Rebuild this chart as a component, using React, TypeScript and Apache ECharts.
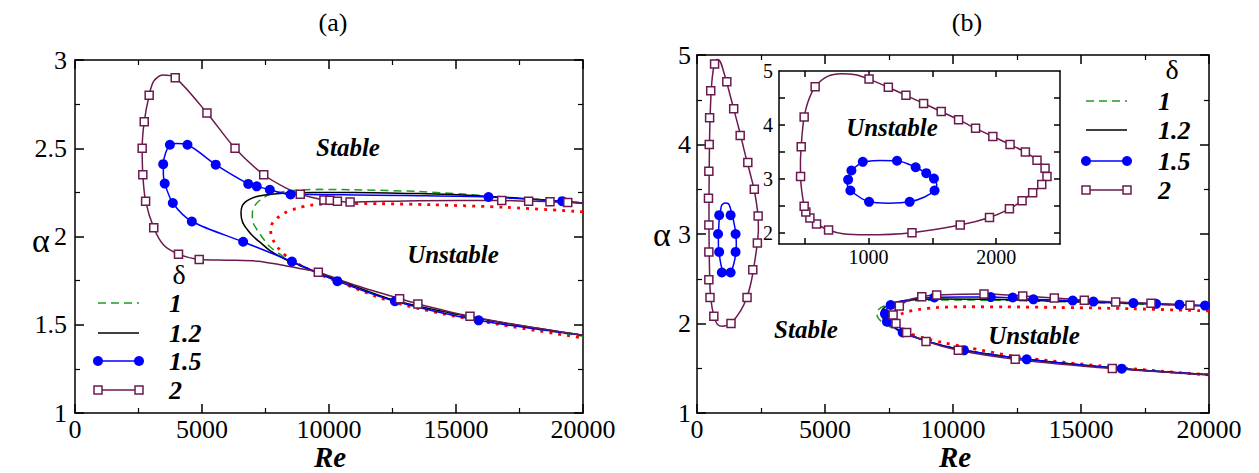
import React, { useEffect, useRef } from "react";
import * as echarts from "echarts";

type P = [number, number];

// ---------- Panel (a) ----------
const aDelta1: P[] = [[20000,2.19],[18000,2.212],[16000,2.233],[13500,2.255],[11000,2.265],[9646,2.267],[8202,2.254],[7546,2.23],[7152,2.188],[6990,2.145],[6982,2.112],[7030,2.072],[7218,2.027],[7450,1.98],[7677,1.942],[8202,1.886],[8700,1.845],[9500,1.795],[10400,1.748],[12600,1.635],[16000,1.53],[20000,1.435]];
const aDelta12: P[] = [[20000,2.19],[18000,2.212],[16000,2.23],[13500,2.243],[11000,2.25],[9400,2.25],[8333,2.246],[7546,2.237],[7200,2.228],[6890,2.212],[6700,2.195],[6575,2.17],[6535,2.133],[6600,2.08],[6780,2.04],[7021,2.0],[7350,1.96],[7677,1.92],[8333,1.867],[8800,1.84],[9500,1.8],[10400,1.752],[12600,1.638],[16000,1.533],[20000,1.44]];
const aDelta15: P[] = [[20000,2.19],[19180,2.2],[16280,2.224],[13000,2.232],[10500,2.236],[9200,2.238],[8490,2.238],[7670,2.265],[7154,2.284],[6820,2.298],[5540,2.407],[4430,2.52],[4000,2.527],[3740,2.52],[3560,2.47],[3478,2.41],[3480,2.35],[3535,2.3],[3851,2.19],[4610,2.085],[6620,1.97],[8540,1.858],[10330,1.747],[12597,1.633],[15890,1.525],[20000,1.44]];
const aDelta15Marks: P[] = [[3737,2.52],[4428,2.52],[3472,2.41],[3532,2.3],[3851,2.19],[4600,2.085],[5540,2.407],[6820,2.298],[7154,2.284],[7670,2.265],[8490,2.238],[6620,1.97],[8540,1.858],[10330,1.747],[12597,1.633],[15890,1.525],[16280,2.224],[19180,2.2]];
const aDelta2: P[] = [[20000,2.19],[19400,2.192],[18700,2.197],[17860,2.2],[16800,2.204],[13500,2.203],[10830,2.195],[10330,2.2],[10040,2.205],[9800,2.207],[9300,2.222],[8870,2.24],[8300,2.275],[7430,2.35],[6300,2.5],[5195,2.7],[3946,2.9],[3450,2.915],[3100,2.88],[2920,2.8],[2725,2.65],[2645,2.5],[2670,2.35],[2780,2.2],[3100,2.05],[3500,1.95],[4075,1.9],[4890,1.87],[6000,1.866],[7200,1.86],[8070,1.84],[8800,1.82],[9580,1.797],[11000,1.725],[12780,1.648],[13500,1.618],[15550,1.548],[17500,1.497],[20000,1.44]];
const aDelta2Marks: P[] = [[3946,2.9],[2920,2.8],[2725,2.65],[2645,2.5],[2670,2.35],[2780,2.2],[3100,2.05],[4075,1.9],[4890,1.87],[5195,2.7],[6300,2.5],[7430,2.35],[8870,2.24],[9800,2.207],[10040,2.205],[10330,2.2],[10830,2.195],[16800,2.204],[17860,2.2],[18700,2.197],[19400,2.192],[9580,1.797],[12780,1.648],[13500,1.618],[15550,1.548]];
const refDotted: P[] = [[20000,2.14],[17000,2.165],[14000,2.18],[12000,2.186],[10500,2.187],[9318,2.178],[8700,2.158],[8268,2.135],[7980,2.107],[7760,2.071],[7705,2.03],[7808,1.978],[8032,1.929],[8350,1.885],[8900,1.835],[9600,1.787],[10400,1.742],[12600,1.625],[16000,1.52],[20000,1.425]];

// ---------- Panel (b) ----------
const bDelta1: P[] = [[20000,2.195],[17000,2.22],[14000,2.245],[11500,2.26],[9500,2.262],[8500,2.255],[7800,2.235],[7350,2.2],[7100,2.16],[7020,2.11],[7080,2.06],[7300,2.0],[7700,1.94],[8200,1.88],[9000,1.8],[10400,1.705],[12800,1.605],[16500,1.5],[20000,1.43]];
const bDelta12: P[] = [[20000,2.197],[17000,2.225],[14000,2.25],[11500,2.27],[9500,2.275],[8500,2.265],[7800,2.24],[7450,2.2],[7250,2.16],[7210,2.11],[7260,2.06],[7450,2.0],[7800,1.94],[8250,1.88],[9000,1.8],[10400,1.703],[12800,1.603],[16500,1.498],[20000,1.428]];
const bDelta15: P[] = [[20000,2.195],[19844,2.2],[18845,2.21],[17932,2.22],[17046,2.228],[15483,2.245],[14676,2.256],[13141,2.27],[12333,2.285],[11474,2.295],[10300,2.295],[9271,2.29],[8400,2.27],[7800,2.235],[7566,2.207],[7400,2.16],[7340,2.11],[7380,2.05],[7480,2.0],[7700,1.95],[8035,1.9],[9000,1.8],[10430,1.7],[12879,1.6],[16590,1.495],[20000,1.43]];
const bDelta15Marks: P[] = [[7566,2.207],[7340,2.11],[7420,2.02],[8035,1.9],[9271,2.29],[11474,2.295],[12333,2.29],[13141,2.27],[14676,2.256],[15483,2.245],[17046,2.228],[17932,2.22],[18845,2.21],[19844,2.2],[10430,1.7],[12879,1.6],[16590,1.495]];
const bDelta2: P[] = [[20000,2.195],[19258,2.203],[17734,2.225],[16355,2.24],[15129,2.26],[13957,2.285],[12723,2.307],[11211,2.33],[9363,2.318],[8780,2.3],[8300,2.265],[7903,2.196],[7720,2.15],[7660,2.095],[7690,2.04],[7773,2.0],[8190,1.9],[8945,1.8],[10207,1.7],[12430,1.6],[16223,1.497],[20000,1.425]];
const bDelta2Marks: P[] = [[7903,2.196],[7660,2.095],[7773,2.0],[8190,1.9],[8945,1.8],[10207,1.7],[12430,1.6],[16223,1.497],[8780,2.3],[9363,2.318],[11211,2.33],[12723,2.307],[13957,2.285],[15129,2.26],[16355,2.24],[17734,2.225],[19258,2.203]];
// closed loops at low Re (shared by panel (b) and its inset)
const loopDelta2: P[] = [[1005,4.85],[1156,4.7],[1294,4.55],[1432,4.4],[1570,4.25],[1706,4.1],[1839,3.94],[1974,3.79],[2109,3.64],[2229,3.5],[2320,3.35],[2383,3.2],[2398,3.05],[2357,2.9],[2286,2.75],[2203,2.6],[2104,2.45],[1948,2.29],[1719,2.15],[1341,2.01],[984,1.97],[800,1.99],[688,2.06],[594,2.17],[542,2.28],[510,2.39],[497,2.5],[478,2.78],[469,3.05],[468,3.32],[474,3.6],[483,3.88],[497,4.15],[530,4.45],[583,4.71],[680,4.9],[789,4.95],[900,4.93],[1005,4.85]];
const loopDelta15: P[] = [[956,3.32],[1090,3.345],[1224,3.34],[1370,3.22],[1453,3.11],[1513,3.01],[1535,2.9],[1518,2.79],[1440,2.67],[1323,2.58],[1160,2.555],[1005,2.58],[859,2.79],[835,2.9],[841,2.99],[867,3.16],[956,3.32]];
const loopDelta2MainMarks: P[] = [[687,4.9],[1164,4.7],[1433,4.4],[1687,4.1],[1985,3.8],[2239,3.5],[2388,3.2],[2358,2.9],[2179,2.6],[1955,2.29],[1328,2.0],[657,2.08],[507,2.29],[463,2.49],[463,2.8],[463,3.1],[448,3.4],[463,3.7],[478,4.0],[493,4.3],[537,4.6]];
const loopDelta15MainMarks: P[] = [[866,3.21],[1313,3.21],[821,3.0],[1507,3.0],[866,2.8],[1507,2.8],[970,2.57],[1313,2.57]];
const insetDelta2Marks: P[] = [[1005,4.85],[1156,4.7],[1294,4.55],[1432,4.4],[1570,4.25],[1706,4.1],[1839,3.94],[1974,3.79],[2109,3.64],[2229,3.5],[2320,3.35],[2383,3.2],[2398,3.05],[2357,2.9],[2286,2.75],[2203,2.6],[2104,2.45],[1948,2.29],[1719,2.15],[1341,2.01],[688,2.06],[594,2.17],[542,2.28],[510,2.39],[497,2.5],[469,3.05],[474,3.6],[497,4.15],[583,4.71]];
const insetDelta15Marks: P[] = [[956,3.32],[1224,3.34],[1370,3.22],[1453,3.11],[1513,3.01],[1518,2.79],[1323,2.58],[1005,2.58],[859,2.79],[841,2.99],[867,3.16]];

// ticks / labels
const insetXTicks = [500, 1000, 1500, 2000];
const insetXLabels = [1000, 2000];
const insetYTicks = [2, 2.5, 3, 3.5, 4, 4.5];
const insetYLabels = [2, 3, 4, 5];
const legendLabels = ["1", "1.2", "1.5", "2"];

const FONT = "Liberation Serif";
const GREEN = "#1f9a1f";
const BLUE = "#0000ff";
const MAROON = "#6b1a4f";
const RED = "#ff0000";

const plain = (v: number) => String(v);

function axis(gridIndex: number, position: string, min: number, max: number, interval: number | undefined, showLabel: boolean, extra: any = {}) {
  return {
    type: "value",
    gridIndex,
    position,
    min,
    max,
    interval,
    axisLine: { show: true, onZero: false, lineStyle: { color: "#000", width: 1.5 } },
    axisTick: { show: true, inside: true, length: 9, lineStyle: { color: "#000", width: 1.5 }, ...(extra.tick || {}) },
    minorTick: { show: extra.minor !== false, splitNumber: 2, length: 5, lineStyle: { color: "#000", width: 1.2 } },
    splitLine: { show: false },
    minorSplitLine: { show: false },
    axisLabel: {
      show: showLabel,
      color: "#000",
      fontSize: extra.fontSize || 26,
      fontFamily: FONT,
      margin: extra.margin ?? 6,
      formatter: plain,
      ...(extra.label || {}),
    },
  };
}

function lineSeries(data: P[], xi: number, color: string, lineStyle: any = {}) {
  return {
    type: "line",
    xAxisIndex: xi,
    yAxisIndex: xi,
    data,
    showSymbol: false,
    smooth: 0.3,
    silent: true,
    z: 6,
    lineStyle: { color, width: 1.5, opacity: 1, ...lineStyle },
  };
}
function circles(data: P[], xi: number) {
  return { type: "scatter", xAxisIndex: xi, yAxisIndex: xi, data, symbol: "circle", symbolSize: 10, itemStyle: { color: BLUE, opacity: 1 }, silent: true, z: 8 };
}
function squares(data: P[], xi: number) {
  return { type: "scatter", xAxisIndex: xi, yAxisIndex: xi, data, symbol: "rect", symbolSize: 8, itemStyle: { color: "#ffffff", borderColor: MAROON, borderWidth: 1.5, opacity: 1 }, silent: true, z: 9 };
}

function txt(text: string, x: number, y: number, size: number, opts: any = {}) {
  const align = opts.align || "center";
  return {
    type: "text",
    x,
    y,
    z: 100,
    style: {
      text,
      fontSize: size,
      fontFamily: FONT,
      fontWeight: opts.bold ? "bold" : "normal",
      fontStyle: opts.italic ? "italic" : "normal",
      fill: "#000",
      align,
      textAlign: align,
      verticalAlign: "middle",
      textVerticalAlign: "middle",
    },
  };
}

function legend(x1: number, x2: number, tx: number, rows: number[], dx: number, dy: number) {
  const els: any[] = [];
  els.push(txt("δ", dx, dy, 28));
  const styles = [
    { stroke: GREEN, lineWidth: 1.5, lineDash: [8, 5] },
    { stroke: "#000", lineWidth: 1.5 },
    { stroke: BLUE, lineWidth: 1.5 },
    { stroke: MAROON, lineWidth: 1.5 },
  ];
  rows.forEach((y, i) => {
    els.push({ type: "line", z: 100, shape: { x1, y1: y, x2, y2: y }, style: styles[i] });
    if (i === 2) {
      els.push({ type: "circle", z: 101, shape: { cx: x1, cy: y, r: 5 }, style: { fill: BLUE } });
      els.push({ type: "circle", z: 101, shape: { cx: x2, cy: y, r: 5 }, style: { fill: BLUE } });
    }
    if (i === 3) {
      els.push({ type: "rect", z: 101, shape: { x: x1 - 4, y: y - 4, width: 8, height: 8 }, style: { fill: "#fff", stroke: MAROON, lineWidth: 1.5 } });
      els.push({ type: "rect", z: 101, shape: { x: x2 - 4, y: y - 4, width: 8, height: 8 }, style: { fill: "#fff", stroke: MAROON, lineWidth: 1.5 } });
    }
    els.push(txt(legendLabels[i], tx, y, 26, { bold: true, italic: true, align: "left" }));
  });
  return els;
}

const dotted = { type: [3, 6], width: 2.8, color: RED };

const option: any = {
  animation: false,
  backgroundColor: "#fff",
  textStyle: { fontFamily: FONT },
  grid: [
    { left: 75, top: 60, width: 508, height: 353, show: false },
    { left: 697, top: 55, width: 512, height: 358, show: false },
    { left: 779, top: 71, width: 281, height: 173, show: false },
  ],
  xAxis: [
    axis(0, "bottom", 0, 20000, 5000, true, { margin: 3 }),
    axis(0, "top", 0, 20000, 5000, false),
    axis(1, "bottom", 0, 20000, 5000, true, { margin: 3 }),
    axis(1, "top", 0, 20000, 5000, false),
    axis(2, "bottom", 300, 2500, undefined, true, { minor: false, fontSize: 20, margin: 3, tick: { length: 6, customValues: insetXTicks }, label: { customValues: insetXLabels } }),
    axis(2, "top", 300, 2500, undefined, false, { minor: false, tick: { length: 6, customValues: insetXTicks } }),
  ],
  yAxis: [
    axis(0, "left", 1, 3, 0.5, true, { margin: 8 }),
    axis(0, "right", 1, 3, 0.5, false),
    axis(1, "left", 1, 5, 1, true, { margin: 6 }),
    axis(1, "right", 1, 5, 1, false),
    axis(2, "left", 1.8, 5, undefined, true, { minor: false, fontSize: 20, margin: 6, tick: { length: 6, customValues: insetYTicks }, label: { customValues: insetYLabels } }),
    axis(2, "right", 1.8, 5, undefined, false, { minor: false, tick: { length: 6, customValues: insetYTicks } }),
  ],
  series: [
    // panel (a)
    lineSeries(refDotted, 0, RED, dotted),
    lineSeries(aDelta1, 0, GREEN, { type: [8, 5] }),
    lineSeries(aDelta12, 0, "#000"),
    lineSeries(aDelta15, 0, BLUE),
    lineSeries(aDelta2, 0, MAROON),
    circles(aDelta15Marks, 0),
    squares(aDelta2Marks, 0),
    // panel (b)
    lineSeries(refDotted, 2, RED, dotted),
    lineSeries(bDelta1, 2, GREEN, { type: [8, 5] }),
    lineSeries(bDelta12, 2, "#000"),
    lineSeries(bDelta15, 2, BLUE),
    lineSeries(bDelta2, 2, MAROON),
    lineSeries(loopDelta2, 2, MAROON),
    lineSeries(loopDelta15, 2, BLUE),
    circles(bDelta15Marks, 2),
    squares(bDelta2Marks, 2),
    circles(loopDelta15MainMarks, 2),
    squares(loopDelta2MainMarks, 2),
    // inset
    lineSeries(loopDelta2, 4, MAROON),
    lineSeries(loopDelta15, 4, BLUE),
    circles(insetDelta15Marks, 4),
    squares(insetDelta2Marks, 4),
  ],
  graphic: [
    txt("(a)", 333, 22, 26),
    txt("(b)", 967, 22, 26),
    txt("Re", 330, 457, 29, { bold: true, italic: true }),
    txt("Re", 955, 457, 29, { bold: true, italic: true }),
    txt("α", 41, 240, 34),
    txt("α", 662, 234, 34),
    txt("Stable", 348, 147, 25, { bold: true, italic: true }),
    txt("Unstable", 453, 254, 25, { bold: true, italic: true }),
    txt("Stable", 806, 329, 25, { bold: true, italic: true }),
    txt("Unstable", 1034, 335, 25, { bold: true, italic: true }),
    txt("Unstable", 892, 127, 25, { bold: true, italic: true }),
    ...legend(98, 139, 169, [303, 333, 361, 390], 179, 274),
    ...legend(1086, 1127, 1158, [101, 130, 161, 190], 1172, 69),
  ],
};

export default function App() {
  const ref = useRef<HTMLDivElement>(null);
  useEffect(() => {
    const chart = echarts.init(ref.current!, null, { renderer: "svg" });
    chart.setOption(option);
    return () => chart.dispose();
  }, []);
  return (
    <div
      ref={ref}
      style={{ position: "fixed", left: 0, top: 0, width: 1259, height: 473, background: "#fff" }}
    />
  );
}
